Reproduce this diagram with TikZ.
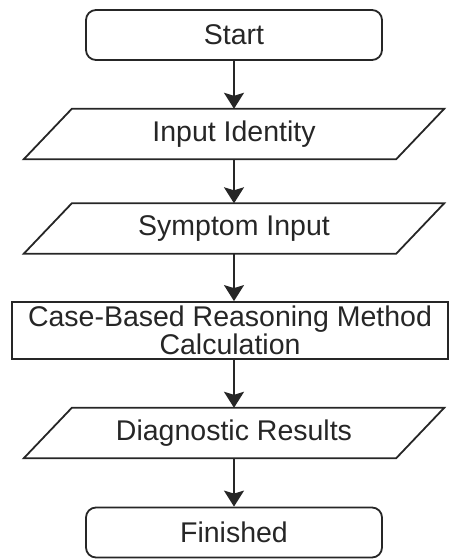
\documentclass[tikz,border=0pt]{standalone}
\usepackage{fontspec}
\setmainfont{Liberation Sans}
\usetikzlibrary{arrows.meta}
\begin{document}
\begin{tikzpicture}[x=1pt,y=-1pt,
  txt/.style={font=\fontsize{28.5}{28}\selectfont, text=black!85, inner sep=0pt, align=center},
  term/.style={txt, draw=black!85, line width=1.8pt, rounded corners=10pt, minimum width=296pt, minimum height=50pt},
  iobox/.style={txt, minimum width=372pt, minimum height=50pt},
  procbox/.style={txt, draw=black!85, line width=1.8pt, minimum width=436pt, minimum height=57pt},
  para/.style={draw=black!85, line width=1.8pt, line join=miter},
  conn/.style={draw=black!85, line width=1.8pt, -{Stealth[width=20pt,length=16pt,inset=3pt]}}
]
\useasboundingbox (0,0) rectangle (449,559);
\node[term] (start) at (234,35) {Start};
\node[iobox] (in1) at (234,134) {Input Identity};
\node[iobox] (in2) at (234,228.5) {Symptom Input};
\node[procbox] (calc) at (230,330.5) {Case-Based Reasoning Method\\Calculation};
\node[iobox] (res) at (234,433) {Diagnostic Results};
\node[term] (fin) at (234,532.5) {Finished};
\foreach \n in {in1,in2,res}{
  \draw[para] ([xshift=24pt]\n.north west) -- ([xshift=24pt]\n.north east)
    -- ([xshift=-24pt]\n.south east) -- ([xshift=-24pt]\n.south west) -- cycle;
}
\draw[conn] (start.south) -- (in1.north);
\draw[conn] (in1.south) -- (in2.north);
\draw[conn] (in2.south) -- (in2.south |- calc.north);
\draw[conn] (in2.south |- calc.south) -- (res.north);
\draw[conn] (res.south) -- (fin.north);
\end{tikzpicture}
\end{document}
